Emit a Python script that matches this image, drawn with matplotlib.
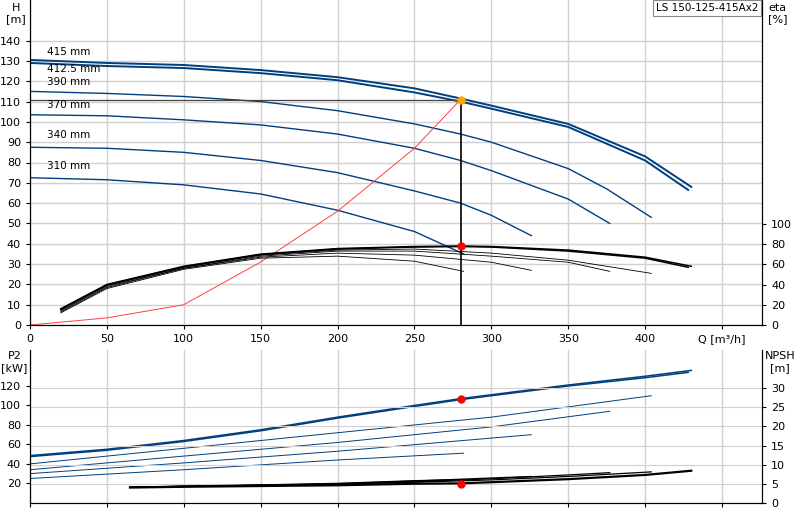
import numpy as np
import matplotlib
matplotlib.use("Agg")
import matplotlib.pyplot as plt

diam_labels = ["415 mm", "412.5 mm", "390 mm", "370 mm", "340 mm", "310 mm"]
label_H = [133, 124.5, 118, 107, 92, 77]

# H curves (Q, H)
H_q = {
 "415": [0,50,100,150,200,250,280,300,350,400,430],
 "412.5": [0,50,100,150,200,250,280,300,350,400,428],
 "390": [0,50,100,150,200,250,280,300,350,375,404],
 "370": [0,50,100,150,200,250,280,300,350,377],
 "340": [0,50,100,150,200,250,280,300,326],
 "310": [0,50,100,150,200,250,282],
}
H_v = {
 "415": [130.5,129,128,125.5,122,116.5,111.5,108,99,83,68],
 "412.5": [129,127.5,126.5,124,120.5,114.5,110,106.5,97.5,81,66.5],
 "390": [115,114,112.5,110,105.5,99,94,90,77,67,53],
 "370": [103.5,103,101,98.5,94,87,81,76,62,50],
 "340": [87.5,87,85,81,75,66,60,54,44],
 "310": [72.5,71.5,69,64.5,56.5,46,35],
}
# efficiency curves (Q, eta %)
E_q = {
 "415": [20,50,100,150,200,250,280,300,350,400,430],
 "412.5": [20,50,100,150,200,250,280,300,350,400,428],
 "390": [20,50,100,150,200,250,300,350,404],
 "370": [20,50,100,150,200,250,300,350,377],
 "340": [20,50,100,150,200,250,300,326],
 "310": [20,50,100,150,200,250,282],
}
E_v = {
 "415": [16,40,58,70,75.5,77.5,78,77.5,74,67,58],
 "412.5": [15.5,39.5,57.5,69.5,75,77,77.5,77,73,66,57],
 "390": [15,39,57,69,74,75,71,64,51],
 "370": [14,38,56,68,73,73,68,62,53],
 "340": [13,37,56,67,71,69,62,54],
 "310": [12,36,55,66,68,63,53],
}
# P2 curves (Q, kW)
P_q = {
 "415": [0,50,100,150,200,250,280,300,350,400,430],
 "412.5": [0,50,100,150,200,250,280,300,350,400,428],
 "390": [0,100,200,300,404],
 "370": [0,100,200,300,377],
 "340": [0,100,200,326],
 "310": [0,100,200,282],
}
P_v = {
 "415": [48.5,55,64,75,88,100,107,111,121,130,136],
 "412.5": [47.5,54,63,74,87,99,106,110,120,128.5,134],
 "390": [40,56,72,88,110],
 "370": [34,48,62,78,94],
 "340": [30,41,53,70],
 "310": [25,34,44,51],
}
# NPSH curves (Q, m)
N_q = {
 "415": [65,100,150,200,250,280,300,350,400,430],
 "390": [65,100,150,200,250,300,350,404],
 "370": [65,100,150,200,250,300,350,377],
 "340": [65,100,150,200,250,300,326],
 "310": [65,100,150,200,250,282],
}
N_v = {
 "415": [4.0,4.2,4.4,4.6,5.0,5.1,5.4,6.2,7.3,8.4],
 "390": [4.1,4.3,4.6,4.9,5.4,6.0,6.9,8.1],
 "370": [4.1,4.3,4.6,4.9,5.5,6.3,7.3,7.9],
 "340": [4.1,4.3,4.6,5.0,5.7,6.5,6.9],
 "310": [4.1,4.4,4.7,5.1,5.8,6.1],
}
sys_q = [0,50,100,150,200,250,280]
sys_h = [0,3.5,10,31,56,87,111]
duty_Q, duty_H, duty_eta, duty_P, duty_N = 280, 111, 78, 107, 5.0

blue = "#003f7f"
fig = plt.figure(figsize=(8, 5.2), dpi=100)
ax = fig.add_axes([0.0375, 0.375, 0.915, 0.625])
ax2 = ax.twinx()
bx = fig.add_axes([0.0375, 0.033, 0.915, 0.294])
bx2 = bx.twinx()

for a in (ax, bx):
    a.set_xlim(0, 476)
    a.set_xticks(np.arange(0, 451, 50))
    a.grid(True, color="#d0d0d0", lw=1)
    a.set_axisbelow(True)
    a.spines["top"].set_visible(False)
    a.tick_params(labelsize=8, length=3)
ax.set_xticklabels([str(v) for v in range(0, 401, 50)] + ["Q [m³/h]"])
bx.set_xticklabels([])
ax.set_ylim(0, 160)
ax.set_yticks(np.arange(0, 141, 10))
ax2.set_ylim(0, 321)
ax2.set_yticks(np.arange(0, 101, 20))
bx.set_ylim(0, 157)
bx.set_yticks(np.arange(20, 121, 20))
bx2.set_ylim(0, 40)
bx2.set_yticks(np.arange(0, 31, 5))
for a in (ax2, bx2):
    a.tick_params(labelsize=8, length=3)
    a.spines["top"].set_visible(False)
bx.grid(False)
bx.xaxis.grid(True, color="#d0d0d0")
bx2.yaxis.grid(True, color="#d0d0d0")
bx2.set_axisbelow(True)

keys = ["415", "412.5", "390", "370", "340", "310"]
for k, lab, ly in zip(keys, diam_labels, label_H):
    big = k in ("415", "412.5")
    ax.plot(H_q[k], H_v[k], color=blue, lw=1.4 if big else 1.0)
    ax.text(11, ly, lab, fontsize=7.5)
    ax2.plot(E_q[k], E_v[k], color="black", lw=1.1 if big else 0.6)
    bx.plot(P_q[k], P_v[k], color=blue, lw=1.1 if big else 0.7)
for k in N_q:
    bx2.plot(N_q[k], N_v[k], color="black", lw=1.6 if k == "415" else 0.9)

ax.plot(sys_q, sys_h, color="#ff4040", lw=0.7)
ax.plot([0, duty_Q], [duty_H, duty_H], color="#444444", lw=0.9)
ax.plot([duty_Q, duty_Q], [0, duty_H], color="black", lw=1.2)
ax.plot(duty_Q, duty_H, "o", color="orange", ms=5, zorder=5)
ax2.plot(duty_Q, duty_eta, "o", color="red", ms=5, zorder=5)
bx.plot(duty_Q, duty_P, "o", color="red", ms=5, zorder=5)
bx2.plot(duty_Q, duty_N, "o", color="red", ms=5, zorder=5)

fig.text(0.02, 0.995, "H\n[m]", fontsize=8, ha="center", va="top")
fig.text(0.972, 0.995, "eta\n[%]", fontsize=8, ha="center", va="top")
fig.text(0.018, 0.325, "P2\n[kW]", fontsize=8, ha="center", va="top")
fig.text(0.975, 0.325, "NPSH\n[m]", fontsize=8, ha="center", va="top")
ax.text(0.995, 0.99, "LS 150-125-415Ax2", transform=ax.transAxes, fontsize=7.5,
        ha="right", va="top", bbox=dict(fc="white", ec="#888888", lw=0.8, pad=2))
fig.savefig("out.png", dpi=100)
